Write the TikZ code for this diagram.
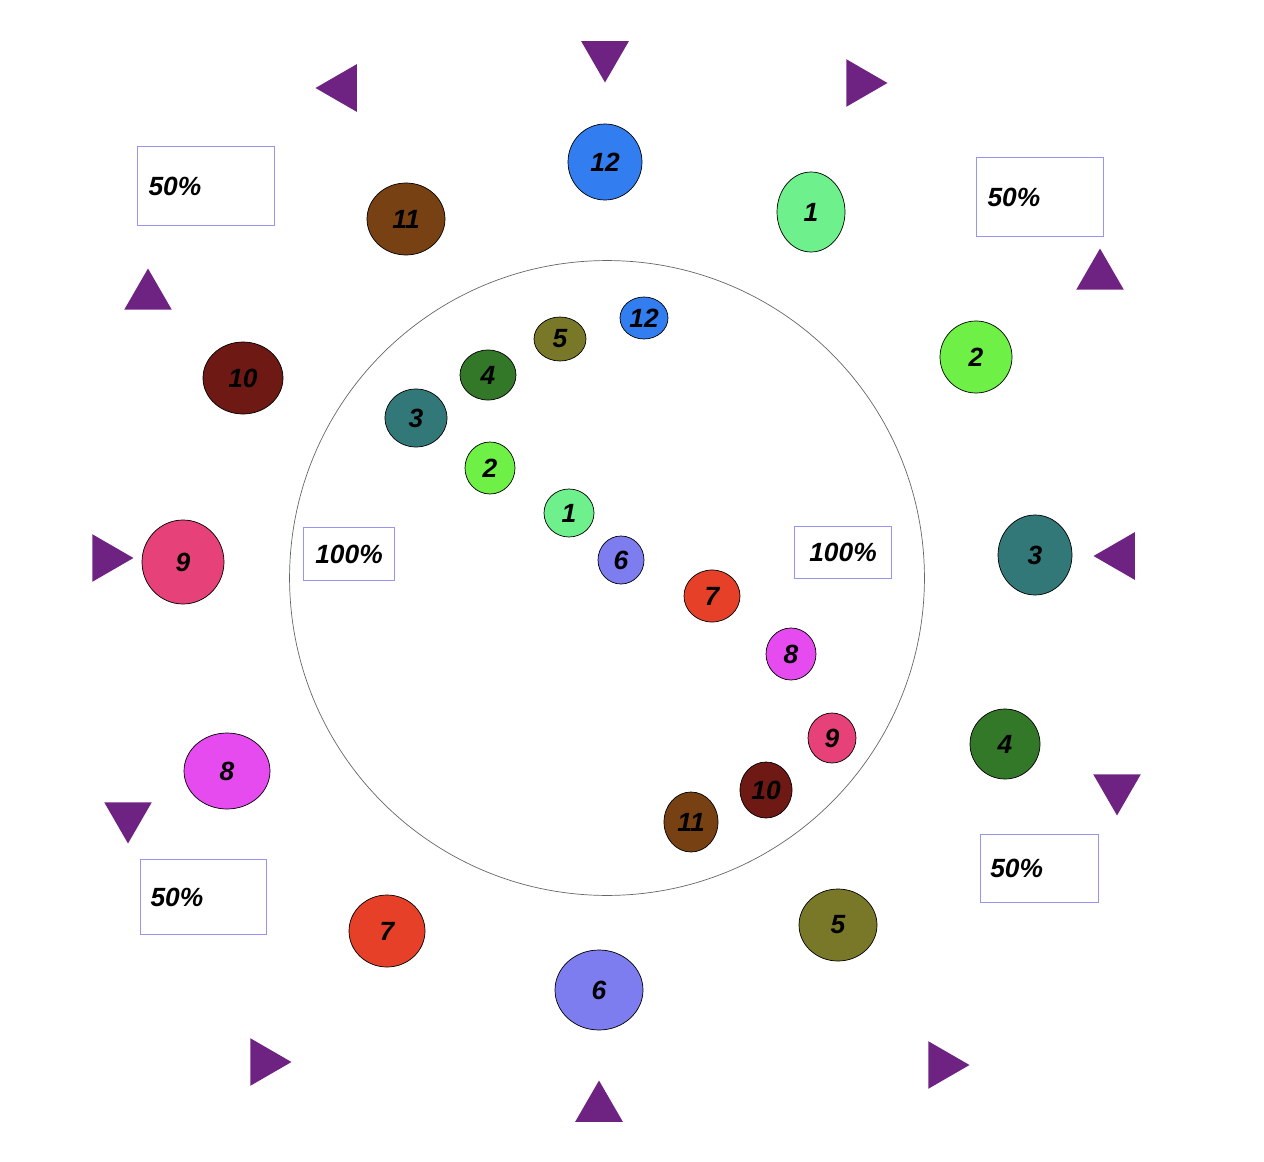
\documentclass[tikz,border=0pt]{standalone}
\usepackage{fontspec}
\setmainfont{Liberation Sans}
\usetikzlibrary{shapes.geometric}

\definecolor{cBlue}{RGB}{50,125,240}
\definecolor{cMint}{RGB}{110,240,140}
\definecolor{cLime}{RGB}{110,240,70}
\definecolor{cTeal}{RGB}{50,120,120}
\definecolor{cForest}{RGB}{50,120,40}
\definecolor{cOlive}{RGB}{120,120,40}
\definecolor{cPeri}{RGB}{125,125,240}
\definecolor{cRed}{RGB}{230,65,40}
\definecolor{cMag}{RGB}{230,75,240}
\definecolor{cPink}{RGB}{230,65,120}
\definecolor{cMaroon}{RGB}{110,25,20}
\definecolor{cBrown}{RGB}{120,65,20}
\definecolor{cPurple}{RGB}{110,35,130}
\definecolor{cFrame}{RGB}{150,150,240}

\tikzset{
  ball/.style={ellipse, draw=black, inner sep=0pt, font=\fontsize{15}{17}\selectfont\bfseries\itshape},
  arrowhead/.style={regular polygon, regular polygon sides=3, fill=cPurple, inner sep=0pt, minimum size=1.1cm},
  share/.style={draw=cFrame, thin, align=left, font=\fontsize{15}{17}\selectfont\bfseries\itshape}
}

\begin{document}
\begin{tikzpicture}[x=0.02cm, y=-0.02cm]
\useasboundingbox (0,0) rectangle (1264,1162);

% dial
\node (dial) [circle, draw=black!60, minimum size=12.7cm, inner sep=0pt] at (607,578) {};

% outer ring
\foreach \n/\x/\y/\w/\h/\c in {12/605/162/74/76/cBlue, 1/811/212/68/80/cMint, 2/976/357/72/72/cLime,
  3/1035/555/74/80/cTeal, 4/1005/744/70/70/cForest, 5/838/925/78/72/cOlive, 6/599/990/88/80/cPeri,
  7/387/931/76/72/cRed, 8/227/771/86/76/cMag, 9/183/562/82/84/cPink, 10/243/378/80/72/cMaroon,
  11/406/219/78/72/cBrown}
  \node (out\n) [ball, fill=\c, minimum width=\w*0.02cm, minimum height=\h*0.02cm] at (\x,\y) {\n};

% inner spiral
\foreach \n/\x/\y/\w/\h/\c in {12/644/318/48/42/cBlue, 5/560/339/52/44/cOlive, 4/488/375/56/50/cForest,
  3/416/418/62/58/cTeal, 2/490/468/50/52/cLime, 1/569/513/50/48/cMint, 6/621/560/46/48/cPeri,
  7/712/596/56/52/cRed, 8/791/654/50/52/cMag, 9/832/738/48/50/cPink, 10/766/790/52/56/cMaroon,
  11/691/822/54/60/cBrown}
  \node (in\n) [ball, fill=\c, minimum width=\w*0.02cm, minimum height=\h*0.02cm] at (\x,\y) {\n};

% pointers
\node (tN) [arrowhead, rotate=180] at (605,55) {};
\node (tNW) [arrowhead, rotate=90] at (343,88) {};
\node (tNE) [arrowhead, rotate=-90] at (860,83) {};
\node (tW1) [arrowhead] at (148,296) {};
\node (tE1) [arrowhead] at (1100,276) {};
\node (tW) [arrowhead, rotate=-90] at (106,558) {};
\node (tE) [arrowhead, rotate=90] at (1121,556) {};
\node (tE2) [arrowhead, rotate=180] at (1117,788) {};
\node (tW2) [arrowhead, rotate=180] at (128,816) {};
\node (tSW) [arrowhead, rotate=150] at (264,1062) {};
\node (tSE) [arrowhead, rotate=-90] at (942,1065) {};
\node (tS) [arrowhead] at (599,1108) {};

% percentages
\node (pNW) [share, minimum width=2.74cm, minimum height=1.58cm, text width=2.3cm] at (206,186) {50\%};
\node (pNE) [share, minimum width=2.54cm, minimum height=1.58cm, text width=2.1cm] at (1040,197) {50\%};
\node (pSW) [share, minimum width=2.52cm, minimum height=1.5cm, text width=2.1cm] at (203,897) {50\%};
\node (pSE) [share, minimum width=2.36cm, minimum height=1.36cm, text width=1.95cm] at (1039,868) {50\%};
\node (pW) [share, minimum width=1.82cm, minimum height=1.06cm, inner sep=1pt] at (349,554) {100\%};
\node (pE) [share, minimum width=1.94cm, minimum height=1.04cm, inner sep=1pt] at (843,552) {100\%};
\end{tikzpicture}
\end{document}
